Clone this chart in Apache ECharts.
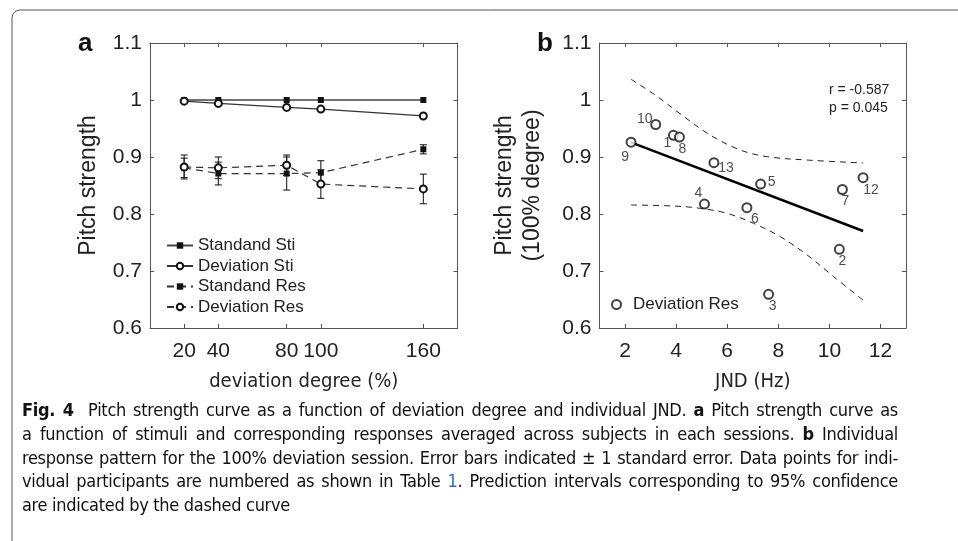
<!DOCTYPE html>
<html>
<head>
<meta charset="utf-8">
<script src="https://cdn.jsdelivr.net/npm/echarts@6/dist/echarts.min.js"></script>
<style>
  html, body { margin: 0; padding: 0; background: #fff; }
  #chart { position: absolute; left: 0; top: 0; width: 958px; height: 541px; }
  #caption {
    position: absolute; left: 22px; top: 398px; width: 876px;
    font-family: 'DejaVu Sans Condensed', 'Liberation Sans Narrow', sans-serif;
    font-size: 18px; line-height: 23.8px; color: #111; letter-spacing: -0.3px;
  }
  #caption .j { text-align: justify; text-align-last: justify; white-space: nowrap; }
  #caption b { font-weight: bold; }
  #caption .ref { color: #2f6db5; }
</style>
</head>
<body>
<div id="chart"></div>
<div id="caption">
  <div class="j"><b>Fig. 4</b>&nbsp; Pitch strength curve as a function of deviation degree and individual JND. <b>a</b> Pitch strength curve as</div>
  <div class="j">a function of stimuli and corresponding responses averaged across subjects in each sessions. <b>b</b> Individual</div>
  <div class="j">response pattern for the 100% deviation session. Error bars indicated ± 1 standard error. Data points for indi-</div>
  <div class="j">vidual participants are numbered as shown in Table <span class="ref">1</span>. Prediction intervals corresponding to 95% confidence</div>
  <div>are indicated by the dashed curve</div>
</div>
<script>
// panel a : pitch strength vs deviation degree
var degrees = [20, 40, 80, 100, 160];
var standandSti = [1.0, 1.0, 1.0, 1.0, 1.0];
var deviationSti = [0.998, 0.994, 0.987, 0.984, 0.972];
var standandRes = [0.881, 0.871, 0.871, 0.8725, 0.9135];
var standandResErr = [0.017, 0.020, 0.029, 0.021, 0.008];
var deviationRes = [0.8825, 0.881, 0.8855, 0.8525, 0.844];
var deviationResErr = [0.021, 0.019, 0.018, 0.025, 0.026];

// panel b : individual responses, 100% deviation
var subjectIds = ['1', '2', '3', '4', '5', '6', '7', '8', '9', '10', '12', '13'];
var jnd = [3.895, 10.39, 7.62, 5.11, 7.31, 6.77, 10.51, 4.13, 2.235, 3.20, 11.32, 5.48];
var pitchStrength = [0.938, 0.738, 0.659, 0.8175, 0.8526, 0.811, 0.843, 0.935, 0.926, 0.957, 0.8637, 0.890];
var fitX = [2.235, 11.32];
var fitY = [0.9258, 0.7702];
var upperX = [2.235, 3.176, 4.22, 5.33, 6.51, 7.56, 9.12, 11.32];
var upperY = [1.0363, 1.0088, 0.9737, 0.9386, 0.9123, 0.9006, 0.8947, 0.8895];
var lowerX = [2.235, 3.895, 4.94, 5.99, 7.03, 8.08, 9.13, 10.17, 11.32];
var lowerY = [0.8158, 0.814, 0.810, 0.8012, 0.7837, 0.7602, 0.728, 0.690, 0.649];

// tick labels
var degreeTicks = [20, 40, 80, 100, 160];
var jndTicks = [2, 4, 6, 8, 10, 12];
var strengthTicks = [0.6, 0.7, 0.8, 0.9, 1, 1.1];

// where each subject number sits next to its circle (px)
var labelOffsets = [[-6, 8], [3, 12], [4, 12], [-6, -11], [11, -2], [8, 11], [3, 12], [3, 12], [-6, 15], [-11, -5], [8, 12], [12, 5]];

var FONT = "'Liberation Sans', Arial, sans-serif";
var NARROW = "'DejaVu Sans Condensed', 'Liberation Sans Narrow', sans-serif";
var axisColor = '#555';

function zip(xs, ys) {
    return xs.map(function (x, i) { return [x, ys[i]]; });
}

function errData(vals, errs) {
    return degrees.map(function (d, i) { return [d, vals[i] - errs[i], vals[i] + errs[i]]; });
}

function errRender(params, api) {
    var top = api.coord([api.value(0), api.value(2)]);
    var bot = api.coord([api.value(0), api.value(1)]);
    var w = 3.5;
    var st = { stroke: '#222', lineWidth: 1.1 };
    return {
        type: 'group',
        children: [
            { type: 'line', shape: { x1: top[0], y1: top[1], x2: bot[0], y2: bot[1] }, style: st },
            { type: 'line', shape: { x1: top[0] - w, y1: top[1], x2: top[0] + w, y2: top[1] }, style: st },
            { type: 'line', shape: { x1: bot[0] - w, y1: bot[1], x2: bot[0] + w, y2: bot[1] }, style: st }
        ]
    };
}

function xAx(grid, min, max, ticks, pos, name) {
    var main = pos === 'bottom';
    return {
        gridIndex: grid, type: 'value', min: min, max: max, position: pos,
        axisLine: { show: true, onZero: false, lineStyle: { color: axisColor, width: 1 } },
        axisTick: { show: true, inside: true, length: 4, customValues: ticks, lineStyle: { color: axisColor } },
        axisLabel: { show: main, customValues: ticks, fontSize: 21, fontFamily: FONT, color: '#222', margin: 13 },
        splitLine: { show: false },
        name: main ? name : '', nameLocation: 'middle', nameGap: 44,
        nameTextStyle: { fontSize: 20, fontFamily: NARROW, color: '#222' }
    };
}

function yAx(grid, pos, name, gap) {
    var main = pos === 'left';
    return {
        gridIndex: grid, type: 'value', min: 0.6, max: 1.1, position: pos,
        axisLine: { show: true, onZero: false, lineStyle: { color: axisColor, width: 1 } },
        axisTick: { show: true, inside: true, length: 4, customValues: strengthTicks, lineStyle: { color: axisColor } },
        axisLabel: { show: main, customValues: strengthTicks, fontSize: 21, fontFamily: FONT, color: '#222', margin: 8 },
        splitLine: { show: false },
        name: main ? name : '', nameLocation: 'middle', nameGap: gap || 50,
        nameTextStyle: { fontSize: 23, fontFamily: FONT, color: '#222', lineHeight: 28 }
    };
}

var chart = echarts.init(document.getElementById('chart'), null, { renderer: 'canvas' });

var option = {
    backgroundColor: '#fff',
    animation: false,
    grid: [
        { left: 150, top: 43, width: 307.5, height: 285, outerBoundsMode: 'none' },
        { left: 599.5, top: 43, width: 306.5, height: 285, outerBoundsMode: 'none' }
    ],
    xAxis: [
        xAx(0, 0, 180, degreeTicks, 'bottom', 'deviation degree (%)'),
        xAx(0, 0, 180, degreeTicks, 'top'),
        xAx(1, 1, 13, jndTicks, 'bottom', 'JND (Hz)'),
        xAx(1, 1, 13, jndTicks, 'top')
    ],
    yAxis: [
        yAx(0, 'left', 'Pitch strength', 47),
        yAx(0, 'right'),
        yAx(1, 'left', 'Pitch strength\n(100% degree)', 53),
        yAx(1, 'right')
    ],
    legend: [
        {
            data: ['Standand Sti', 'Deviation Sti', 'Standand Res', 'Deviation Res'],
            orient: 'vertical', left: 166, top: 237, padding: 0,
            itemWidth: 26, itemHeight: 8, itemGap: 3.5,
            selectedMode: false,
            textStyle: { fontSize: 17, fontFamily: FONT, color: '#222' }
        },
        {
            data: ['Deviation Res (b)'],
            left: 611, top: 296, padding: 0,
            itemWidth: 9, itemHeight: 9,
            selectedMode: false,
            formatter: function (n) { return n.replace(' (b)', ''); },
            textStyle: { fontSize: 17, fontFamily: FONT, color: '#222', padding: [0, 0, 0, 7] }
        }
    ],
    graphic: [
        { type: 'rect', shape: { x: 12, y: 10, width: 1000, height: 600, r: 8 }, style: { fill: 'none', stroke: '#555', lineWidth: 1 }, silent: true },
        { type: 'text', left: 78, top: 31, style: { text: 'a', font: 'bold 26px ' + FONT, fill: '#111' } },
        { type: 'text', left: 537, top: 31, style: { text: 'b', font: 'bold 26px ' + FONT, fill: '#111' } },
        { type: 'text', left: 829, top: 83, style: { text: 'r = -0.587', font: '14px ' + FONT, fill: '#222' } },
        { type: 'text', left: 829, top: 101, style: { text: 'p = 0.045', font: '14px ' + FONT, fill: '#222' } }
    ],
    series: [
        {
            type: 'custom', name: 'err std', xAxisIndex: 0, yAxisIndex: 0,
            renderItem: errRender, data: errData(standandRes, standandResErr),
            encode: { x: 0, y: [1, 2] }, z: 1, silent: true
        },
        {
            type: 'custom', name: 'err dev', xAxisIndex: 0, yAxisIndex: 0,
            renderItem: errRender, data: errData(deviationRes, deviationResErr),
            encode: { x: 0, y: [1, 2] }, z: 1, silent: true
        },
        {
            type: 'line', name: 'Standand Sti', xAxisIndex: 0, yAxisIndex: 0,
            data: zip(degrees, standandSti),
            symbol: 'rect', symbolSize: 6, z: 3,
            itemStyle: { color: '#111' },
            lineStyle: { color: '#444', width: 1.5 }
        },
        {
            type: 'line', name: 'Deviation Sti', xAxisIndex: 0, yAxisIndex: 0,
            data: zip(degrees, deviationSti),
            symbol: 'emptyCircle', symbolSize: 7, z: 4,
            itemStyle: { color: '#111', borderWidth: 1.2 },
            lineStyle: { color: '#333', width: 1.2 }
        },
        {
            type: 'line', name: 'Standand Res', xAxisIndex: 0, yAxisIndex: 0,
            data: zip(degrees, standandRes),
            symbol: 'rect', symbolSize: 6, z: 3,
            itemStyle: { color: '#111' },
            lineStyle: { color: '#333', width: 1.2, type: [7, 5] }
        },
        {
            type: 'line', name: 'Deviation Res', xAxisIndex: 0, yAxisIndex: 0,
            data: zip(degrees, deviationRes),
            symbol: 'emptyCircle', symbolSize: 7, z: 4,
            itemStyle: { color: '#111', borderWidth: 1.2 },
            lineStyle: { color: '#333', width: 1.2, type: [7, 5] }
        },
        {
            type: 'line', name: 'upper PI', xAxisIndex: 2, yAxisIndex: 2,
            data: zip(upperX, upperY), smooth: 0.35, showSymbol: false, silent: true, z: 2,
            lineStyle: { color: '#222', width: 1, type: [6, 5] }
        },
        {
            type: 'line', name: 'lower PI', xAxisIndex: 2, yAxisIndex: 2,
            data: zip(lowerX, lowerY), smooth: 0.35, showSymbol: false, silent: true, z: 2,
            lineStyle: { color: '#222', width: 1, type: [6, 5] }
        },
        {
            type: 'line', name: 'fit', xAxisIndex: 2, yAxisIndex: 2,
            data: zip(fitX, fitY), showSymbol: false, silent: true, z: 3,
            lineStyle: { color: '#000', width: 2.5 }
        },
        {
            type: 'scatter', name: 'Deviation Res (b)', xAxisIndex: 2, yAxisIndex: 2,
            symbol: 'emptyCircle', symbolSize: 9, z: 5,
            itemStyle: { color: '#111', borderWidth: 1.2 },
            label: { show: true, position: 'inside', formatter: '{b}', fontSize: 14, fontFamily: FONT, color: '#222' },
            data: subjectIds.map(function (id, i) {
                return { name: id, value: [jnd[i], pitchStrength[i]], label: { offset: labelOffsets[i] } };
            })
        }
    ]
};

chart.setOption(option);
</script>
</body>
</html>
